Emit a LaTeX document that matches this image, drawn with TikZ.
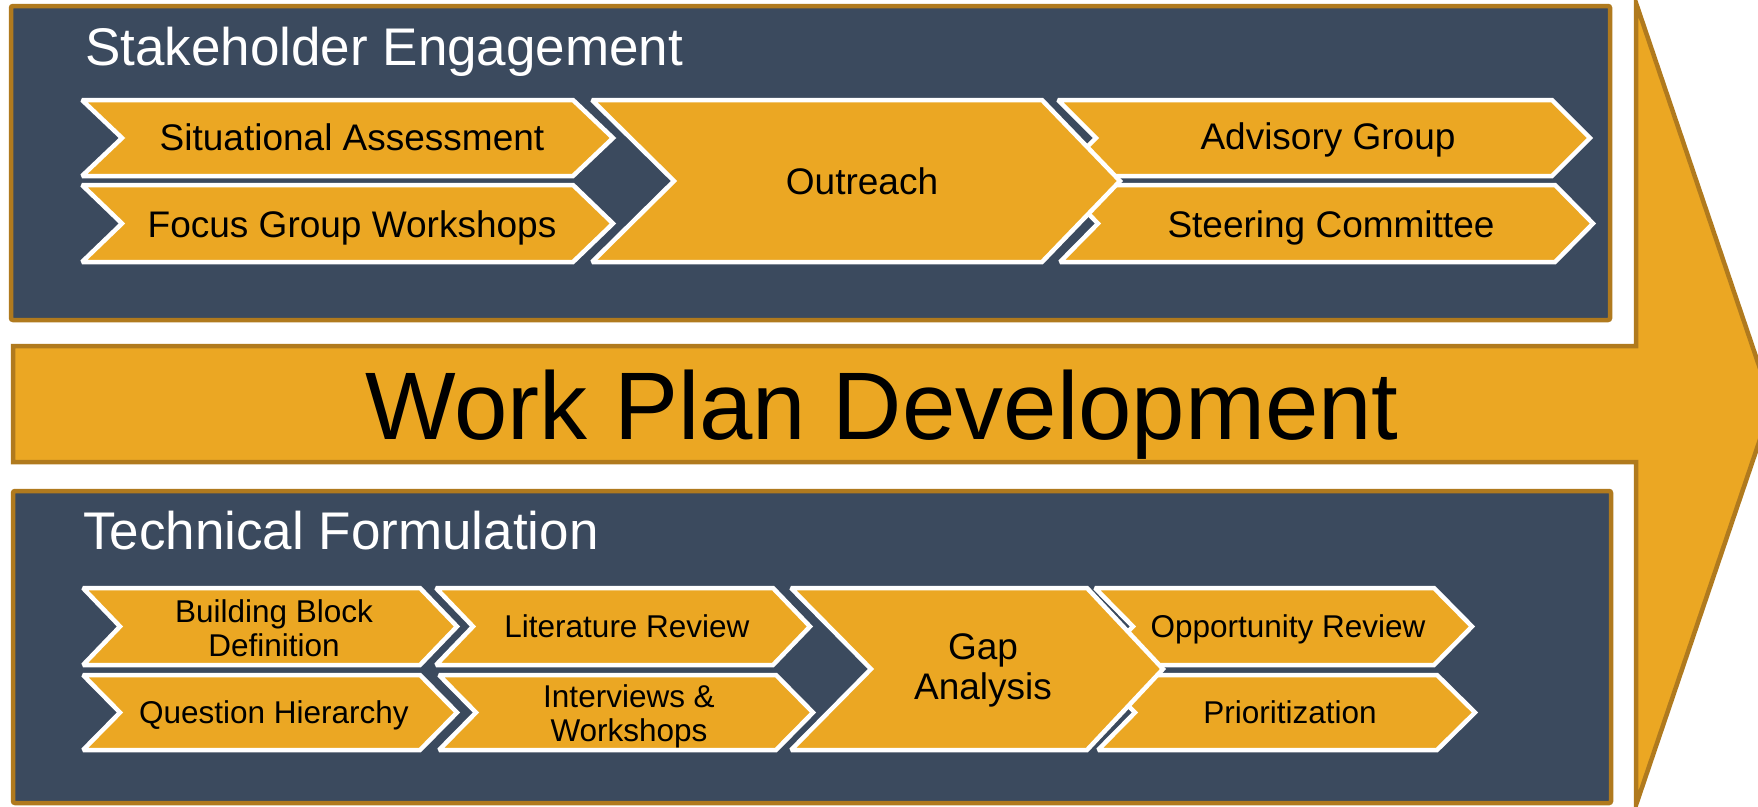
\documentclass[tikz,border=0pt]{standalone}
\usepackage{fontspec}
\setmainfont{Liberation Sans}
\definecolor{navy}{HTML}{3B4A5E}
\definecolor{gold}{HTML}{EBA723}
\definecolor{rim}{HTML}{B07A1E}
\newcommand\chevshape[6]{%
  \pgfmathsetmacro\cym{(#3+#4)/2}%
  \draw[chev] (#1,#3) -- (#2,#3) -- ({#2+#6},\cym) -- (#2,#4) -- (#1,#4) -- ({#1+#5},\cym) -- cycle;}
\begin{document}
\begin{tikzpicture}[x=1pt,y=-1pt,
  panel/.style={fill=navy, draw=rim, line width=4.5pt, rounded corners=2pt},
  band/.style={fill=gold, draw=rim, line width=4.5pt, line join=miter},
  chev/.style={fill=gold, draw=white, line width=4.5pt, line join=miter, miter limit=2},
  bigtxt/.style={font=\fontsize{37}{40}\selectfont, text=black, inner sep=0pt, align=center},
  smalltxt/.style={font=\fontsize{31.5}{34}\selectfont, text=black, inner sep=0pt, align=center},
  titletxt/.style={font=\fontsize{53}{60}\selectfont, text=white, inner sep=0pt, anchor=base west},
]
\useasboundingbox (0,0) rectangle (1758,806);
\clip (0,0) rectangle (1758,806);
\fill[white] (0,0) rectangle (1758,806);

% panels
\draw[panel] (11,6) rectangle (1610,320);
\draw[panel] (13,491) rectangle (1611,803);

% main arrow
\draw[band] (13,346) -- (1636,346) -- (1636,3) -- (1772,404) -- (1636,805) -- (1636,462) -- (13,462) -- cycle;
\node[font=\fontsize{96}{110}\selectfont, inner sep=0pt, anchor=base] (wpd) at (882,439) {Work Plan Development};

% titles
\node[titletxt] (se) at (85,65) {Stakeholder Engagement};
\node[titletxt] (tf) at (83,549) {Technical Formulation};

% top chevrons
\chevshape{1058}{1552}{100}{176}{38}{38}
\chevshape{1060}{1555}{185}{262}{38}{38}
\chevshape{82}{573}{100}{176}{40}{40}
\chevshape{82}{573}{185}{262}{40}{40}
\chevshape{592}{1042}{100}{262}{82}{78}

\node[bigtxt, anchor=base] (sa) at (352,150) {Situational Assessment};
\node[bigtxt, anchor=base] (fg) at (352,237) {Focus Group Workshops};
\node[bigtxt, anchor=base] (out) at (862,194) {Outreach};
\node[bigtxt, anchor=base] (adv) at (1328,149) {Advisory Group};
\node[bigtxt, anchor=base] (steer) at (1331,237) {Steering Committee};

% bottom chevrons
\chevshape{1095}{1434}{588}{665}{38}{38}
\chevshape{1098}{1437}{675}{750}{37}{38}
\chevshape{83}{420}{588}{665}{37}{37}
\chevshape{83}{420}{675}{750}{37}{37}
\chevshape{436}{773}{588}{665}{37}{37}
\chevshape{439}{776}{675}{750}{37}{37}
\chevshape{791}{1087}{588}{750}{80}{76}

\node[smalltxt] (bb) at (274,628) {Building Block\\Definition};
\node[smalltxt, anchor=base] (qh) at (274,723) {Question Hierarchy};
\node[smalltxt, anchor=base] (lr) at (627,637) {Literature Review};
\node[smalltxt] (iw) at (629,716) {Interviews \&\\Workshops};
\node[bigtxt] (ga) at (983,670) {Gap\\Analysis};
\node[smalltxt, anchor=base] (opp) at (1288,637) {Opportunity Review};
\node[smalltxt, anchor=base] (pri) at (1290,723) {Prioritization};
\end{tikzpicture}
\end{document}
